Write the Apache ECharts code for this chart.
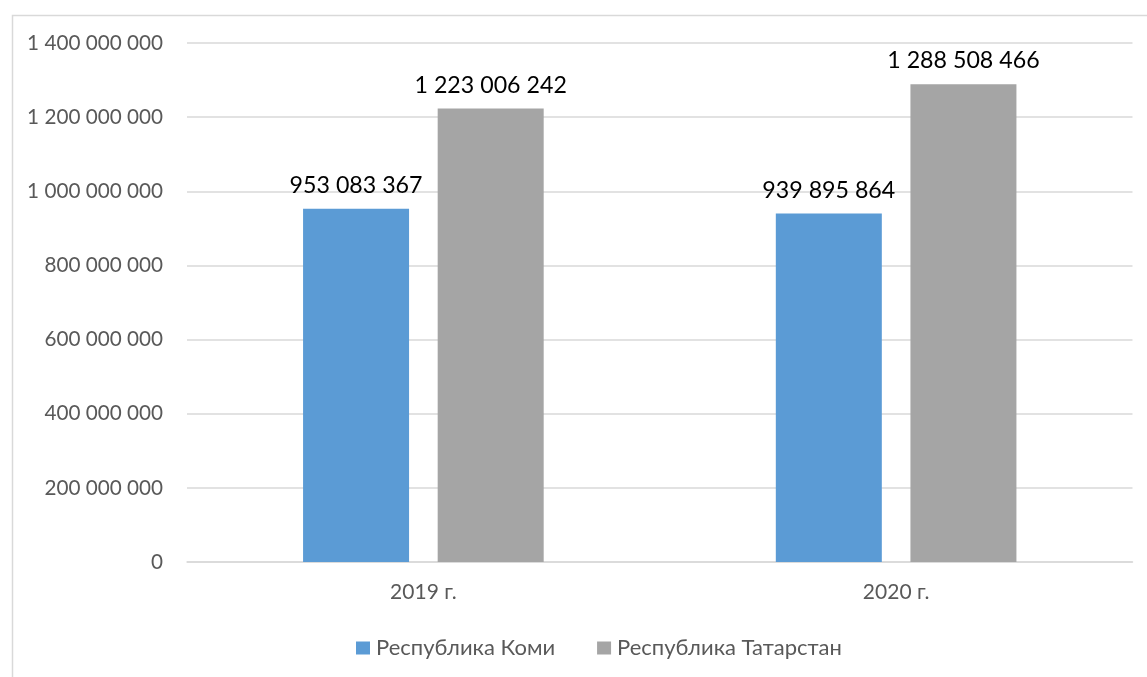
<!DOCTYPE html>
<html><head><meta charset="utf-8">
<script src="https://cdn.jsdelivr.net/npm/echarts@6/dist/echarts.min.js"></script>
<style>html,body{margin:0;padding:0;background:#fff}#c{width:1147px;height:677px}</style>
</head><body><div id="c"></div>
<script>
const categories = ['2019 г.', '2020 г.'];
const komi = [953083367, 939895864];
const tatarstan = [1223006242, 1288508466];
const yTicks = [0, 200000000, 400000000, 600000000, 800000000, 1000000000, 1200000000, 1400000000];

function fmt(v){ return String(v).replace(/\B(?=(\d{3})+(?!\d))/g, ' '); }
const FONT = 'Lato, "Open Sans", "Liberation Sans", sans-serif';
const chart = echarts.init(document.getElementById('c'));
chart.setOption({
  animation: false,
  graphic: [{type:'rect', left:10, top:13, shape:{width:1200, height:700}, style:{fill:'none', stroke:'#d9d9d9', lineWidth:1.5}, silent:true}],
  grid: {left:187, right:14.5, top:43, bottom:115},
  legend: {
    top: 632, left: 351, itemWidth: 14, itemHeight: 13, itemGap: 42,
    icon: 'rect',
    textStyle: {fontFamily: FONT, fontSize: 22, color:'#595959', padding:[0,0,0,1]},
    data: ['Республика Коми', 'Республика Татарстан']
  },
  xAxis: {
    type: 'category', data: categories,
    axisLine: {lineStyle:{color:'#d9d9d9', width:1.5}},
    axisTick: {show:false},
    axisLabel: {fontFamily: FONT, fontSize: 21, color:'#595959', margin: 20}
  },
  yAxis: {
    type: 'value', min: 0, max: yTicks[yTicks.length-1], interval: 200000000,
    axisLine: {show:false}, axisTick: {show:false},
    splitLine: {lineStyle:{color:'#d9d9d9', width:1.5}},
    axisLabel: {fontFamily: FONT, fontSize: 20.7, color:'#595959', margin: 24, formatter: v => fmt(v)}
  },
  series: [
    {name:'Республика Коми', type:'bar', data: komi, barWidth: 106, barGap: '27%',
     itemStyle:{color:'#5b9bd5'},
     label:{show:true, position:'top', distance:12, fontFamily: FONT, fontSize: 23.2, color:'#000', formatter: p => fmt(p.value)}},
    {name:'Республика Татарстан', type:'bar', data: tatarstan, barWidth: 106,
     itemStyle:{color:'#a5a5a5'},
     label:{show:true, position:'top', distance:12, fontFamily: FONT, fontSize: 23.2, color:'#000', formatter: p => fmt(p.value)}}
  ]
});
</script></body></html>
